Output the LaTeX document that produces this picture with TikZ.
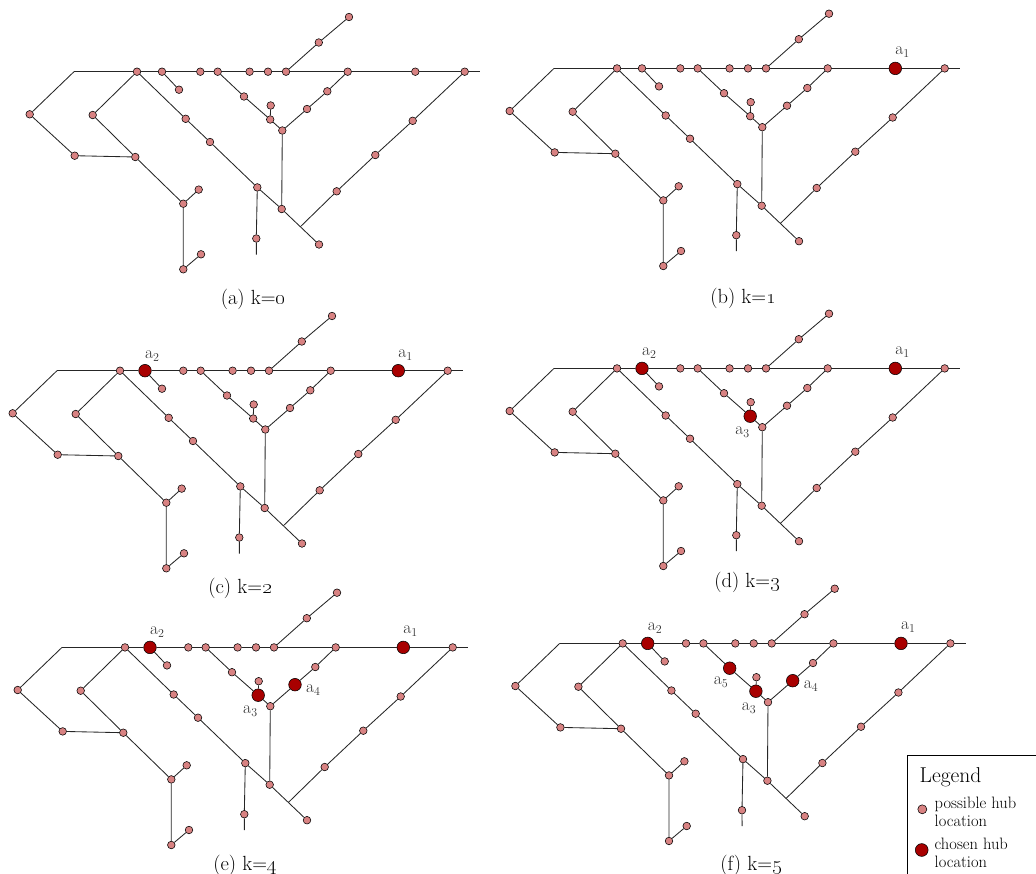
\documentclass[tikz,border=0pt]{standalone}
\usetikzlibrary{calc}
\definecolor{hubpink}{RGB}{216,130,130}
\definecolor{hubred}{RGB}{168,0,0}
\tikzset{
  x=1pt, y=-1pt,
  hub/.style={circle, draw=black, fill=hubpink, line width=0.55pt, minimum size=7.6pt, inner sep=0pt},
  chosen/.style={fill=hubred, minimum size=12.6pt},
  edge/.style={draw=black!85, line width=0.85pt},
  selAone/.style={}, selAtwo/.style={}, selAthree/.style={}, selAfour/.style={}, selAfive/.style={},
  capt/.style={font=\fontsize{20.5}{20.5}\selectfont, inner sep=0pt},
  hublab/.style={font=\fontsize{17.5}{17.5}\selectfont, inner sep=0pt, text=black!80},
}
\newcommand{\sublab}[1]{a\raisebox{-0.4ex}{\fontsize{12}{12}\selectfont #1}}
\newcommand{\hubnet}{%
  \coordinate (c0) at (74,71.7);
  \coordinate (cend) at (480,71.7);
  \node[hub] (t1) at (137,71.7) {};
  \node[hub,selAtwo] (t2) at (162,71.7) {};
  \node[hub] (t3) at (200.3,71.7) {};
  \node[hub] (t4) at (217.7,71.7) {};
  \node[hub] (t5) at (249.6,71.7) {};
  \node[hub] (t6) at (268,71.7) {};
  \node[hub] (t7) at (286,71.7) {};
  \node[hub] (t8) at (347.7,71.7) {};
  \node[hub,selAone] (t9) at (415.3,71.7) {};
  \node[hub] (t10) at (464.7,71.7) {};
  \node[hub] (l1) at (29.7,114.3) {};
  \node[hub] (l2) at (74.7,155.7) {};
  \node[hub] (l3) at (135.3,157) {};
  \node[hub] (m1) at (92.7,115) {};
  \node[hub] (m2) at (183.3,203.7) {};
  \node[hub] (m3) at (198.7,189.6) {};
  \node[hub] (m4) at (183.3,269.3) {};
  \node[hub] (m5) at (201,254.3) {};
  \node[hub] (d1) at (185.7,118.8) {};
  \node[hub] (d2) at (210,142) {};
  \node[hub] (d3) at (257.3,187.4) {};
  \node[hub] (d4) at (281.7,209) {};
  \node[hub] (d5) at (319,244.5) {};
  \node[hub] (v1) at (256.3,238.5) {};
  \coordinate (vend) at (256.4,254.5);
  \coordinate (jn) at ($(d4)!0.5!(d5)$);
  \node[hub] (r1) at (336.7,191.3) {};
  \node[hub] (r2) at (375.3,155) {};
  \node[hub] (r3) at (412.7,120.8) {};
  \node[hub] (s1) at (179,89.7) {};
  \node[hub,selAfive] (y1) at (244,96.5) {};
  \node[hub,selAthree] (y2) at (270.2,119.5) {};
  \node[hub] (y3) at (282.3,130.5) {};
  \node[hub] (y4) at (270.7,105.5) {};
  \node[hub,selAfour] (y5) at (307,109) {};
  \node[hub] (y6) at (327.3,91.3) {};
  \node[hub] (u1) at (318.8,42.5) {};
  \node[hub] (u2) at (349,17) {};
  \draw[edge] (c0) -- (t1) -- (t2) -- (t3) -- (t4) -- (t5) -- (t6) -- (t7) -- (t8) -- (t9) -- (t10) -- (cend);
  \draw[edge] (c0) -- (l1) -- (l2) -- (l3);
  \draw[edge] (t1) -- (m1) -- (l3) -- (m2) -- (m4) -- (m5);
  \draw[edge] (m2) -- (m3);
  \draw[edge] (t1) -- (d1) -- (d2) -- (d3) -- (d4) -- (d5);
  \draw[edge] (d3) -- (v1) -- (vend);
  \draw[edge] (jn) -- (r1) -- (r2) -- (r3) -- (t10);
  \draw[edge] (t2) -- (s1);
  \draw[edge] (t4) -- (y1) -- (y2) -- (y3) -- (d4);
  \draw[edge] (y2) -- (y4);
  \draw[edge] (y3) -- (y5) -- (y6) -- (t8);
  \draw[edge] (t7) -- (u1) -- (u2);
}
\begin{document}
\begin{tikzpicture}
\useasboundingbox (0,0) rectangle (1036,873);
\clip (0,0) rectangle (1036,873);
% (a)
\begin{scope}[name prefix=pa-]
  \hubnet
\end{scope}
\node[capt] (capa) at (253,299) {(a) k=\oldstylenums{0}};
% (b)
\begin{scope}[shift={(480,-3.3)}, name prefix=pb-, selAone/.style=chosen]
  \hubnet
  \node[hublab] (lone) at ($(t9)+(7,-16)$) {\sublab{1}};
\end{scope}
\node[capt] (capb) at (743,298) {(b) k=\oldstylenums{1}};
% (c)
\begin{scope}[shift={(-17,299)}, name prefix=pc-, selAone/.style=chosen, selAtwo/.style=chosen]
  \hubnet
  \node[hublab] (lone) at ($(t9)+(7,-16)$) {\sublab{1}};
  \node[hublab] (ltwo) at ($(t2)+(7,-15)$) {\sublab{2}};
\end{scope}
\node[capt] (capc) at (240,588) {(c) k=\oldstylenums{2}};
% (d)
\begin{scope}[shift={(480,296.7)}, name prefix=pd-, selAone/.style=chosen, selAtwo/.style=chosen, selAthree/.style=chosen]
  \hubnet
  \node[hublab] (lone) at ($(t9)+(7,-16)$) {\sublab{1}};
  \node[hublab] (ltwo) at ($(t2)+(7,-15)$) {\sublab{2}};
  \node[hublab] (lthree) at ($(y2)+(-8,16)$) {\sublab{3}};
\end{scope}
\node[capt] (capd) at (747,582) {(d) k=\oldstylenums{3}};
% (e)
\begin{scope}[shift={(-12,575.7)}, name prefix=pe-, selAone/.style=chosen, selAtwo/.style=chosen, selAthree/.style=chosen, selAfour/.style=chosen]
  \hubnet
  \node[hublab] (lone) at ($(t9)+(7,-16)$) {\sublab{1}};
  \node[hublab] (ltwo) at ($(t2)+(7,-15)$) {\sublab{2}};
  \node[hublab] (lthree) at ($(y2)+(-8,16)$) {\sublab{3}};
  \node[hublab] (lfour) at ($(y5)+(18,5)$) {\sublab{4}};
\end{scope}
\node[capt] (cape) at (245,865) {(e) k=\oldstylenums{4}};
% (f)
\begin{scope}[shift={(485.7,571.7)}, name prefix=pf-, selAone/.style=chosen, selAtwo/.style=chosen, selAthree/.style=chosen, selAfour/.style=chosen, selAfive/.style=chosen]
  \hubnet
  \node[hublab] (lone) at ($(t9)+(7,-16)$) {\sublab{1}};
  \node[hublab] (ltwo) at ($(t2)+(7,-15)$) {\sublab{2}};
  \node[hublab] (lthree) at ($(y2)+(-7,17)$) {\sublab{3}};
  \node[hublab] (lfour) at ($(y5)+(18,5)$) {\sublab{4}};
  \node[hublab] (lfive) at ($(y1)+(-9,14)$) {\sublab{5}};
\end{scope}
\node[capt] (capf) at (751,865) {(f) k=\oldstylenums{5}};
% legend
\draw[line width=0.8pt] (907.5,755.7) rectangle (1050,890);
\node[anchor=west, inner sep=0pt, font=\fontsize{21.5}{21.5}\selectfont] (legtitle) at (919.5,777) {Legend};
\node[hub, minimum size=9pt] (legp) at (922.3,809.3) {};
\node[anchor=west, inner sep=0pt, align=left, font=\fontsize{16.5}{18}\selectfont] (legpt) at (934.5,812) {possible hub\\location};
\node[hub, chosen, minimum size=12.8pt] (legc) at (921.7,850) {};
\node[anchor=west, inner sep=0pt, align=left, font=\fontsize{16.5}{18}\selectfont] (legct) at (934.5,853) {chosen hub\\location};
\end{tikzpicture}
\end{document}
